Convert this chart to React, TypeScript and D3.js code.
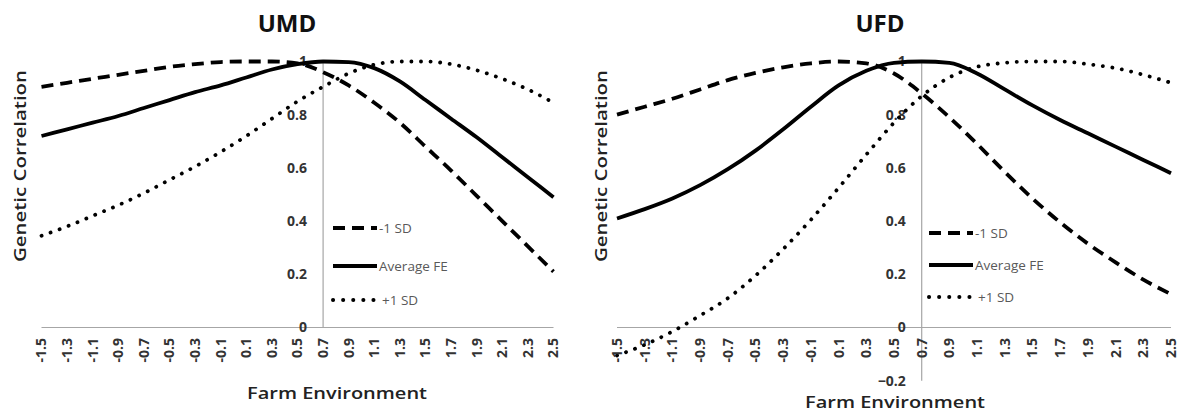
import React from 'react';
import * as d3 from 'd3';

// Category axis (farm environment, every labelled step)
const CATEGORIES = [
  '-1.5', '-1.3', '-1.1', '-0.9', '-0.7', '-0.5', '-0.3', '-0.1', '0.1', '0.3', '0.5',
  '0.7', '0.9', '1.1', '1.3', '1.5', '1.7', '1.9', '2.1', '2.3', '2.5',
];
const CROSS_AT = '0.7';

// UMD genetic correlations
const UMD_MINUS_SD = [0.905, 0.92, 0.935, 0.95, 0.965, 0.98, 0.99, 0.998, 1.0, 1.0, 0.993, 0.96, 0.91, 0.845, 0.77, 0.68, 0.59, 0.495, 0.40, 0.305, 0.21];
const UMD_AVERAGE = [0.72, 0.745, 0.77, 0.795, 0.825, 0.855, 0.885, 0.91, 0.94, 0.97, 0.99, 1.0, 0.998, 0.975, 0.925, 0.855, 0.785, 0.715, 0.64, 0.565, 0.49];
const UMD_PLUS_SD = [0.345, 0.38, 0.42, 0.46, 0.505, 0.555, 0.605, 0.66, 0.72, 0.785, 0.85, 0.905, 0.955, 0.988, 1.0, 1.0, 0.99, 0.967, 0.935, 0.895, 0.845];

// UFD genetic correlations
const UFD_MINUS_SD = [0.80, 0.83, 0.86, 0.895, 0.93, 0.957, 0.978, 0.993, 1.0, 0.993, 0.955, 0.88, 0.79, 0.69, 0.585, 0.485, 0.395, 0.315, 0.245, 0.18, 0.125];
const UFD_AVERAGE = [0.41, 0.445, 0.485, 0.535, 0.595, 0.665, 0.745, 0.83, 0.91, 0.965, 0.995, 1.0, 0.995, 0.955, 0.895, 0.835, 0.78, 0.73, 0.68, 0.63, 0.58];
const UFD_PLUS_SD = [-0.105, -0.065, -0.015, 0.045, 0.11, 0.195, 0.295, 0.405, 0.525, 0.65, 0.77, 0.87, 0.94, 0.98, 0.995, 1.0, 1.0, 0.99, 0.975, 0.95, 0.92];

const LEGEND_LABELS = ['-1 SD', 'Average FE', '+1 SD'];
const UMD_Y_TICKS = [0, 0.2, 0.4, 0.6, 0.8, 1];
const UFD_Y_TICKS = [-0.2, 0, 0.2, 0.4, 0.6, 0.8, 1];

const FONT = "'Open Sans', 'DejaVu Sans', sans-serif";
const AXIS_GREY = '#a6a6a6';

// dashed, solid, dotted
const STYLES = [
  { dash: '12,7', legendDash: '12,7', cap: 'butt' as const },
  { dash: null, legendDash: null, cap: 'butt' as const },
  { dash: '0.1,9.5', legendDash: '0.1,10', cap: 'round' as const },
];

interface PanelProps {
  title: string;
  titleX: number;
  xRange: [number, number];
  yDomain: [number, number];
  yRange: [number, number];
  yTicks: number[];
  series: number[][];
  xTitleX: number;
  xTitleY: number;
  yTitleX: number;
  legendX: number;
  legendYs: number[];
}

const Panel: React.FC<PanelProps> = (p) => {
  const x = d3.scalePoint<string>().domain(CATEGORIES).range(p.xRange);
  const y = d3.scaleLinear().domain(p.yDomain).range(p.yRange);
  const axisX = x(CROSS_AT) as number;

  const line = d3.line<number>()
    .x((_, i) => x(CATEGORIES[i]) as number)
    .y((d) => y(d))
    .curve(d3.curveMonotoneX);

  const fmt = (v: number) => (v === 0 ? '0' : v === 1 ? '1' : d3.format('.1f')(v));

  return (
    <g>
      {/* Title */}
      <text x={p.titleX} y={32} textAnchor="middle" fontSize={24} fontWeight="bold" fill="#111" fontFamily={FONT}>
        {p.title}
      </text>

      {/* Axes */}
      <line x1={p.xRange[0]} x2={p.xRange[1]} y1={y(0)} y2={y(0)} stroke={AXIS_GREY} strokeWidth={1.2} />
      <line x1={axisX} x2={axisX} y1={y(p.yDomain[1])} y2={y(p.yDomain[0])} stroke={AXIS_GREY} strokeWidth={1.2} />

      {/* Y tick labels */}
      {p.yTicks.map((t) => (
        <text key={t} x={axisX - 16} y={y(t)} dy="0.35em" textAnchor="end" fontSize={14} fontWeight="bold" fill="#333" fontFamily={FONT}>
          {fmt(t)}
        </text>
      ))}

      {/* Lines */}
      {p.series.map((s, i) => (
        <path key={i} d={line(s) || ''} fill="none" stroke="#000" strokeWidth={3.8}
          strokeDasharray={STYLES[i].dash || undefined} strokeLinecap={STYLES[i].cap} strokeLinejoin="round" />
      ))}

      {/* X tick labels */}
      {CATEGORIES.map((c) => (
        <text key={c} transform={`translate(${x(c)},338) rotate(-90)`} dy="0.35em" textAnchor="end"
          fontSize={14} fontWeight="bold" fill="#333" fontFamily={FONT}>
          {c}
        </text>
      ))}

      {/* Legend */}
      {LEGEND_LABELS.map((lab, i) => (
        <g key={lab}>
          <line x1={p.legendX} x2={p.legendX + 44} y1={p.legendYs[i]} y2={p.legendYs[i]} stroke="#000" strokeWidth={4}
            strokeDasharray={STYLES[i].legendDash || undefined} strokeLinecap={STYLES[i].cap} />
          <text x={p.legendX + 46 + (i === 2 ? 3 : 0)} y={p.legendYs[i]} dy="0.35em" fontSize={13.5} fill="#595959" fontFamily={FONT}>
            {lab}
          </text>
        </g>
      ))}

      {/* Axis titles */}
      <text x={p.xTitleX} y={p.xTitleY} textAnchor="middle" fontSize={17} fontWeight={600} fill="#222" fontFamily={FONT}
        textLength={180} lengthAdjust="spacingAndGlyphs">
        Farm Environment
      </text>
      <text transform={`translate(${p.yTitleX},166) rotate(-90)`} dy="0.35em" textAnchor="middle" fontSize={17} fontWeight={600}
        fill="#222" fontFamily={FONT} textLength={192} lengthAdjust="spacingAndGlyphs">
        Genetic Correlation
      </text>
    </g>
  );
};

export default function App() {
  return (
    <svg width={1188} height={412} style={{ position: 'absolute', left: 0, top: 0, background: '#fff' }}>
      <rect width={1188} height={412} fill="#fff" />
      <Panel
        title="UMD" titleX={287}
        xRange={[41.5, 553.5]} yDomain={[0, 1]} yRange={[327.5, 61.5]} yTicks={UMD_Y_TICKS}
        series={[UMD_MINUS_SD, UMD_AVERAGE, UMD_PLUS_SD]}
        xTitleX={337} xTitleY={399} yTitleX={20}
        legendX={333} legendYs={[228, 266, 300]}
      />
      <Panel
        title="UFD" titleX={880}
        xRange={[617, 1171]} yDomain={[-0.2, 1]} yRange={[380.7, 61.5]} yTicks={UFD_Y_TICKS}
        series={[UFD_MINUS_SD, UFD_AVERAGE, UFD_PLUS_SD]}
        xTitleX={895} xTitleY={408} yTitleX={601}
        legendX={929} legendYs={[233, 265, 297]}
      />
    </svg>
  );
}
